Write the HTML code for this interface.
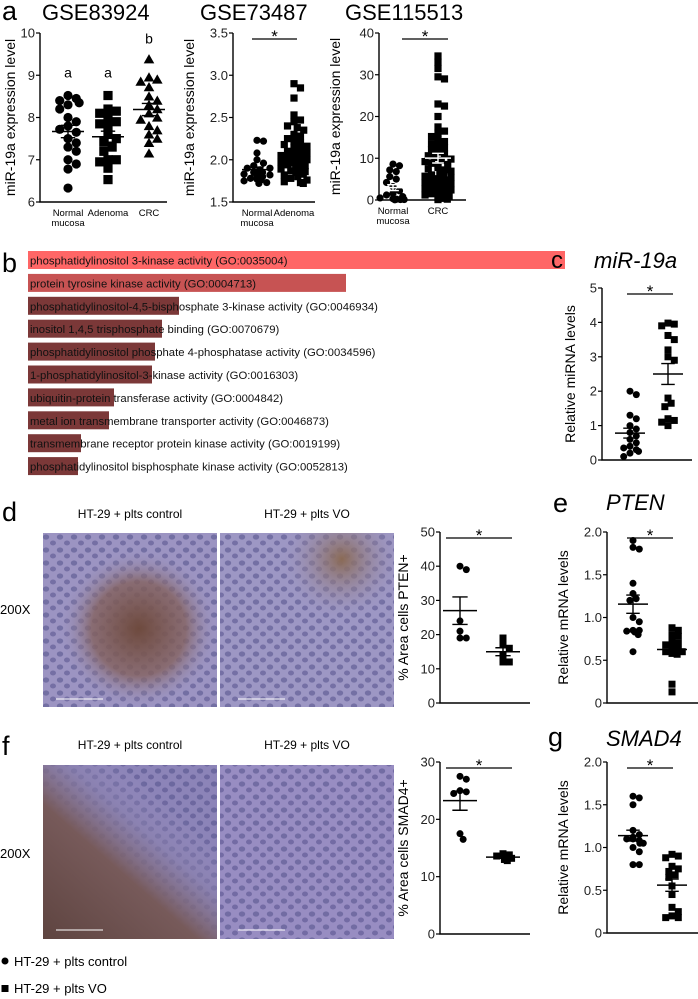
<!DOCTYPE html>
<html><head><meta charset="utf-8"><style>
html,body{margin:0;padding:0;background:#fff;}
svg{display:block;font-family:"Liberation Sans",Arial,sans-serif;}
</style></head><body>
<svg id="fig" width="698" height="999" viewBox="0 0 698 999" xmlns="http://www.w3.org/2000/svg">
<defs>
<radialGradient id="brownD" cx="0.55" cy="0.55" r="0.45"><stop offset="0" stop-color="#6e4a3e"/><stop offset="0.6" stop-color="#84625f" stop-opacity="0.8"/><stop offset="1" stop-color="#9a92bc" stop-opacity="0"/></radialGradient>
<radialGradient id="brownD2" cx="0.7" cy="0.15" r="0.35"><stop offset="0" stop-color="#8a6a55"/><stop offset="1" stop-color="#9c94c0" stop-opacity="0"/></radialGradient>
<linearGradient id="brownF" x1="0" y1="1" x2="0.7" y2="0.2"><stop offset="0" stop-color="#5e4440"/><stop offset="0.55" stop-color="#775a5a"/><stop offset="0.8" stop-color="#8a80ac" stop-opacity="0.6"/><stop offset="1" stop-color="#9a90c0" stop-opacity="0"/></linearGradient>
<pattern id="nuclei" width="14" height="13" patternUnits="userSpaceOnUse"><ellipse cx="4" cy="4" rx="3.2" ry="2.6" fill="#52508a" opacity="0.55"/><ellipse cx="11" cy="10" rx="3" ry="2.5" fill="#4d4a86" opacity="0.5"/></pattern>
</defs>

<text x="2" y="20" font-size="27">a</text>
<text x="42" y="20" font-size="22">GSE83924</text>
<text x="200" y="20" font-size="22">GSE73487</text>
<text x="345" y="20" font-size="22">GSE115513</text>

<text x="2" y="272" font-size="27">b</text>
<g id="gobars"></g>

<text x="551" y="268" font-size="24">c</text>
<text x="594" y="268" font-size="22" font-style="italic">miR-19a</text>

<text x="2" y="521" font-size="27">d</text>
<text x="130" y="518" font-size="12" text-anchor="middle">HT-29 + plts control</text>
<text x="307" y="518" font-size="12" text-anchor="middle">HT-29 + plts VO</text>
<text x="0" y="614" font-size="13">200X</text>
<g>
<rect x="43" y="533" width="174" height="174" fill="#9c94c2"/>
<rect x="43" y="533" width="174" height="174" fill="url(#nuclei)"/>
<rect x="43" y="533" width="174" height="174" fill="url(#brownD)"/>
<line x1="56" y1="699" x2="103" y2="699" stroke="#fff" stroke-width="1"/>
</g>
<g>
<rect x="220" y="533" width="174" height="174" fill="#9d97c4"/>
<rect x="220" y="533" width="174" height="174" fill="url(#nuclei)"/>
<rect x="220" y="533" width="174" height="174" fill="url(#brownD2)"/>
<line x1="238" y1="699" x2="285" y2="699" stroke="#fff" stroke-width="1"/>
</g>

<text x="553" y="512" font-size="27">e</text>
<text x="606" y="510" font-size="22" font-style="italic">PTEN</text>

<text x="2" y="755" font-size="27">f</text>
<text x="130" y="749" font-size="12" text-anchor="middle">HT-29 + plts control</text>
<text x="307" y="749" font-size="12" text-anchor="middle">HT-29 + plts VO</text>
<text x="0" y="858" font-size="13">200X</text>
<g>
<rect x="43" y="765" width="174" height="174" fill="#8c84b8"/>
<rect x="43" y="765" width="174" height="174" fill="url(#nuclei)"/>
<rect x="43" y="765" width="174" height="174" fill="url(#brownF)"/>
<line x1="56" y1="930" x2="103" y2="930" stroke="#fff" stroke-width="1"/>
</g>
<g>
<rect x="220" y="765" width="174" height="174" fill="#988dc2"/>
<rect x="220" y="765" width="174" height="174" fill="url(#nuclei)"/>
<line x1="238" y1="930" x2="285" y2="930" stroke="#fff" stroke-width="1"/>
</g>

<text x="548" y="746" font-size="27">g</text>
<text x="606" y="746" font-size="22" font-style="italic">SMAD4</text>

<g>
<circle cx="5" cy="961" r="3.5" fill="#000"/>
<text x="14" y="966" font-size="13">HT-29 + plts control</text>
<rect x="1.5" y="985" width="7" height="7" fill="#000"/>
<text x="14" y="993" font-size="13">HT-29 + plts VO</text>
</g>
<g id="charts"></g>
</svg>
<script>
const goTerms = ["phosphatidylinositol 3-kinase activity (GO:0035004)","protein tyrosine kinase activity (GO:0004713)","phosphatidylinositol-4,5-bisphosphate 3-kinase activity (GO:0046934)","inositol 1,4,5 trisphosphate binding (GO:0070679)","phosphatidylinositol phosphate 4-phosphatase activity (GO:0034596)","1-phosphatidylinositol-3-kinase activity (GO:0016303)","ubiquitin-protein transferase activity (GO:0004842)","metal ion transmembrane transporter activity (GO:0046873)","transmembrane receptor protein kinase activity (GO:0019199)","phosphatidylinositol bisphosphate kinase activity (GO:0052813)"];
const goScores = [537,318,151,134,127,124,86,81,53,50];

const a1Categories = ["Normal\nmucosa","Adenoma","CRC"];
const a1Normal = [8.52,8.45,8.4,8.35,8.3,8.2,8.0,7.9,7.8,7.72,7.65,7.5,7.4,7.3,7.2,7.0,6.9,6.78,6.33];
const a1Adenoma = [8.52,8.2,8.15,8.1,8.0,7.9,7.85,7.8,7.6,7.5,7.42,7.3,7.2,7.0,7.0,6.95,6.8,6.53];
const a1CRC = [9.38,8.95,8.9,8.85,8.72,8.5,8.4,8.3,8.2,8.1,8.0,7.95,7.8,7.7,7.6,7.5,7.4,7.15];
const a1Ticks = [6,7,8,9,10];
const a1Letters = ["a","a","b"];

const a2Categories = ["Normal\nmucosa","Adenoma"];
const a2Normal = [2.23,2.22,2.08,2.0,1.96,1.93,1.9,1.88,1.86,1.85,1.83,1.82,1.8,1.78,1.77,1.76,1.75,1.73,1.72,1.85,1.9,1.81];
const a2Adenoma = [2.9,2.85,2.73,2.53,2.47,2.45,2.4,2.38,2.35,2.3,2.28,2.25,2.22,2.2,2.18,2.16,2.14,2.12,2.1,2.08,2.06,2.05,2.04,2.02,2.0,1.99,1.98,1.97,1.96,1.95,1.94,1.93,1.92,1.91,1.9,1.89,1.88,1.87,1.86,1.85,1.84,1.83,1.82,1.8,1.78,1.76,1.74,1.73,1.72,2.01,2.03,1.97];
const a2Ticks = [1.5,2.0,2.5,3.0,3.5];

const a3Categories = ["Normal\nmucosa","CRC"];
const a3Normal = [8.6,8.2,7.2,6.8,5.6,5.0,4.2,3.2,2.2,1.6,1.2,0.8,0.5,0.4,0.3,0.2,0.1,0.1,0.05];
const a3CRC = [34.5,33,31.5,29.5,29,23,22.5,20,17.5,16.5,16,15.2,14.5,14,13.5,13,12.5,12,11.5,11,10.6,10.2,9.8,9.5,9.2,8.8,8.5,8.2,7.8,7.5,7.2,6.9,6.6,6.3,6.0,5.7,5.4,5.1,4.8,4.5,4.2,3.9,3.6,3.3,3.0,2.7,2.4,2.1,1.8,1.5,1.2,1.0,0.8,0.6,0.4,0.2,0.1];
const a3Ticks = [0,10,20,30,40];

const cControl = [2.0,1.9,1.3,1.2,1.0,0.9,0.8,0.7,0.6,0.5,0.4,0.35,0.3,0.25,0.2,0.1];
const cVO = [3.98,3.95,3.9,3.62,3.5,3.2,3.0,2.9,1.8,1.65,1.55,1.2,1.15,1.1,1.0];
const cTicks = [0,1,2,3,4,5];

const dControl = [40,39,24,21,19,19];
const dVO = [19,17,16,14,12,12];
const dTicks = [0,10,20,30,40,50];
const eControl = [1.9,1.82,1.8,1.4,1.28,1.22,1.2,1.0,0.95,0.85,0.85,0.83,0.8,0.84,0.6];
const eVO = [0.88,0.85,0.8,0.78,0.72,0.7,0.68,0.65,0.62,0.6,0.6,0.58,0.57,0.22,0.13];
const eTicks = [0,0.5,1.0,1.5,2.0];

const fControl = [27.5,27,25,24.8,24.5,17.5,16.5];
const fVO = [14,13.8,13.6,13.2,13.0,12.8];
const fTicks = [0,10,20,30];
const gControl = [1.6,1.58,1.5,1.2,1.15,1.12,1.1,1.1,1.08,1.05,1.05,1.0,0.95,0.8,0.8];
const gVO = [0.92,0.9,0.88,0.78,0.75,0.72,0.68,0.65,0.55,0.45,0.3,0.25,0.2,0.18,0.18];
const gTicks = [0,0.5,1.0,1.5,2.0];

const NS = "http://www.w3.org/2000/svg";
const root = document.getElementById('charts');
function mk(tag, attrs, parent){const e=document.createElementNS(NS,tag);for(const k in attrs)e.setAttribute(k,attrs[k]);(parent||root).appendChild(e);return e;}

(function(){
  const g=document.getElementById('gobars');
  const x0=28, maxW=537, y0=251, step=22.9, h=18;
  const maxS=Math.max(...goScores);
  goTerms.forEach((t,i)=>{
    const w=goScores[i]/maxS*maxW;
    const col=i===0?"#ff6666":(i===1?"#c75353":"#7b3838");
    const r=mk('rect',{x:x0,y:y0+i*step,width:w,height:h,fill:col},g);
    
    
    const tx=mk('text',{x:x0+2,y:y0+i*step+13.5,'font-size':11.3,fill:'#111'},g);
    tx.textContent=t;
    
    
  });
})();

function swarm(vals, yScale, cx, r, maxHalf){
  const order=vals.map((v,i)=>i).sort((a,b)=>vals[b]-vals[a]);
  const placed=[]; const out=new Array(vals.length);
  order.forEach(i=>{
    const y=yScale(vals[i]);
    let best=0;
    for(let k=0;k<60;k++){
      const off=(k%2?1:-1)*Math.ceil(k/2)*r*0.9;
      if(Math.abs(off)>maxHalf){best=(k%2?1:-1)*maxHalf*(((i*37)%7)/7);break;}
      if(placed.every(p=>Math.hypot(p[0]-(cx+off),p[1]-y)>=r*1.7)){best=off;break;}
    }
    out[i]=[cx+best,y]; placed.push([cx+best,y]);
  });
  return out;
}

function chart(cfg){
  const g=mk('g',{});
  
  
  const lo=cfg.ticks[0], hi=cfg.ticks[cfg.ticks.length-1];
  const ys=v=>cfg.y0-(v-lo)/(hi-lo)*(cfg.y0-cfg.y1);
  const ax=mk('path',{d:`M${cfg.ax},${cfg.y1}V${cfg.y0}H${cfg.xEnd}`,stroke:'#000','stroke-width':1.4,fill:'none'},g);
  
  
  cfg.ticks.forEach((t,i)=>{
    mk('line',{x1:cfg.ax-4,x2:cfg.ax,y1:ys(t),y2:ys(t),stroke:'#000','stroke-width':1.2},g);
    const tl=mk('text',{x:cfg.ax-5,y:ys(t)+4.5,'text-anchor':'end','font-size':cfg.tickFont||13,fill:'#222'},g);
    tl.textContent=cfg.tickLabels?cfg.tickLabels[i]:String(t);
    
    
  });
  const yl=mk('text',{x:0,y:0,'font-size':cfg.yFont||13,'text-anchor':'middle',transform:`translate(${cfg.ylx},${(cfg.y0+cfg.y1)/2}) rotate(-90)`},g);
  yl.textContent=cfg.ylabel;
  
  
  cfg.groups.forEach((grp,gi)=>{
    const cx=cfg.cx[gi];
    const pts=swarm(grp.vals,ys,cx,cfg.r,cfg.maxHalf);
    pts.forEach(p=>{
      let m;
      if(grp.shape==='circle') m=mk('circle',{cx:p[0],cy:p[1],r:cfg.r,fill:'#000'},g);
      else if(grp.shape==='square') m=mk('rect',{x:p[0]-cfg.r,y:p[1]-cfg.r,width:cfg.r*2,height:cfg.r*2,fill:'#000'},g);
      else m=mk('path',{d:`M${p[0]},${p[1]-cfg.r*1.1}L${p[0]+cfg.r*1.15},${p[1]+cfg.r*0.9}L${p[0]-cfg.r*1.15},${p[1]+cfg.r*0.9}Z`,fill:'#000'},g);
      
      
    });
    const n=grp.vals.length, mean=grp.vals.reduce((a,b)=>a+b,0)/n;
    const sd=Math.sqrt(grp.vals.reduce((a,b)=>a+(b-mean)*(b-mean),0)/(n-1)), sem=sd/Math.sqrt(n);
    const mw=cfg.meanW, cw=mw*0.45;
    const col=cfg.meanColor||'#000';
    const ml=mk('line',{x1:cx-mw/2,x2:cx+mw/2,y1:ys(mean),y2:ys(mean),stroke:col,'stroke-width':1.5},g);
    
    
    mk('path',{d:`M${cx},${ys(mean+sem)}V${ys(mean-sem)}M${cx-cw/2},${ys(mean+sem)}H${cx+cw/2}M${cx-cw/2},${ys(mean-sem)}H${cx+cw/2}`,stroke:col,'stroke-width':1.4,fill:'none'},g);
    if(cfg.cats){
      cfg.cats[gi].split('\n').forEach((s,li)=>{
        const t=mk('text',{x:cx,y:cfg.y0+14+li*10,'font-size':9.5,'text-anchor':'middle'},g);
        t.textContent=s;
        
        
      });
    }
    if(cfg.letters){
      const t=mk('text',{x:cx,y:ys(cfg.letterY[gi]),'font-size':14,'text-anchor':'middle'},g);
      t.textContent=cfg.letters[gi];
      
      
    }
  });
  if(cfg.sig){
    const s=mk('line',{x1:cfg.sig[0],x2:cfg.sig[1],y1:cfg.y1+6,y2:cfg.y1+6,stroke:'#000','stroke-width':1.3},g);
    
    
    const st=mk('text',{x:(cfg.sig[0]+cfg.sig[1])/2,y:cfg.y1+9,'font-size':17,'text-anchor':'middle'},g);
    st.textContent='*';
    
    
  }
}

chart({name:'gse83924-chart',ax:40,xEnd:167,y0:202,y1:33,ticks:a1Ticks,ylx:15,ylabel:'miR-19a expression level',yFont:14,
  cx:[68,108,149],r:4.6,maxHalf:13,meanW:32,cats:a1Categories,letters:a1Letters,letterY:[8.95,8.95,9.75],
  groups:[{vals:a1Normal,shape:'circle'},{vals:a1Adenoma,shape:'square'},{vals:a1CRC,shape:'triangle'}]});
chart({name:'gse73487-chart',ax:233,xEnd:315,y0:202,y1:33,ticks:a2Ticks,tickLabels:['1.5','2.0','2.5','3.0','3.5'],ylx:194,ylabel:'miR-19a expression level',yFont:14,
  cx:[257,294],r:3.6,maxHalf:13,meanW:30,cats:a2Categories,sig:[252,297],
  groups:[{vals:a2Normal,shape:'circle'},{vals:a2Adenoma,shape:'square'}]});
chart({name:'gse115513-chart',ax:379,xEnd:466,y0:200,y1:33,ticks:a3Ticks,ylx:340,ylabel:'miR-19a expression level',yFont:14,
  cx:[393,438],r:3.6,maxHalf:13,meanW:26,meanColor:'#fff',cats:a3Categories,sig:[402,448],
  groups:[{vals:a3Normal,shape:'circle'},{vals:a3CRC,shape:'square'}]});
chart({name:'mir19a-chart',ax:602,xEnd:692,y0:460,y1:288,ticks:cTicks,ylx:575,ylabel:'Relative miRNA levels',yFont:14,
  cx:[630,668],r:3.5,maxHalf:12,meanW:30,sig:[627,673],
  groups:[{vals:cControl,shape:'circle'},{vals:cVO,shape:'square'}]});
chart({name:'pten-area-chart',ax:440,xEnd:530,y0:703,y1:532,ticks:dTicks,ylx:408,ylabel:'% Area cells PTEN+',yFont:14,
  cx:[460,503],r:3.5,maxHalf:10,meanW:34,sig:[446,512],
  groups:[{vals:dControl,shape:'circle'},{vals:dVO,shape:'square'}]});
chart({name:'pten-mrna-chart',ax:607,xEnd:698,y0:703,y1:532,ticks:eTicks,tickLabels:['0','0.5','1.0','1.5','2.0'],ylx:568,ylabel:'Relative mRNA levels',yFont:14,
  cx:[633,672],r:3.5,maxHalf:12,meanW:30,sig:[627,673],
  groups:[{vals:eControl,shape:'circle'},{vals:eVO,shape:'square'}]});
chart({name:'smad4-area-chart',ax:440,xEnd:530,y0:934,y1:762,ticks:fTicks,ylx:408,ylabel:'% Area cells SMAD4+',yFont:14,
  cx:[460,503],r:3.5,maxHalf:10,meanW:34,sig:[446,512],
  groups:[{vals:fControl,shape:'circle'},{vals:fVO,shape:'square'}]});
chart({name:'smad4-mrna-chart',ax:607,xEnd:698,y0:933,y1:762,ticks:gTicks,tickLabels:['0','0.5','1.0','1.5','2.0'],ylx:568,ylabel:'Relative mRNA levels',yFont:14,
  cx:[633,672],r:3.5,maxHalf:12,meanW:30,sig:[627,673],
  groups:[{vals:gControl,shape:'circle'},{vals:gVO,shape:'square'}]});
</script>
</body></html>
